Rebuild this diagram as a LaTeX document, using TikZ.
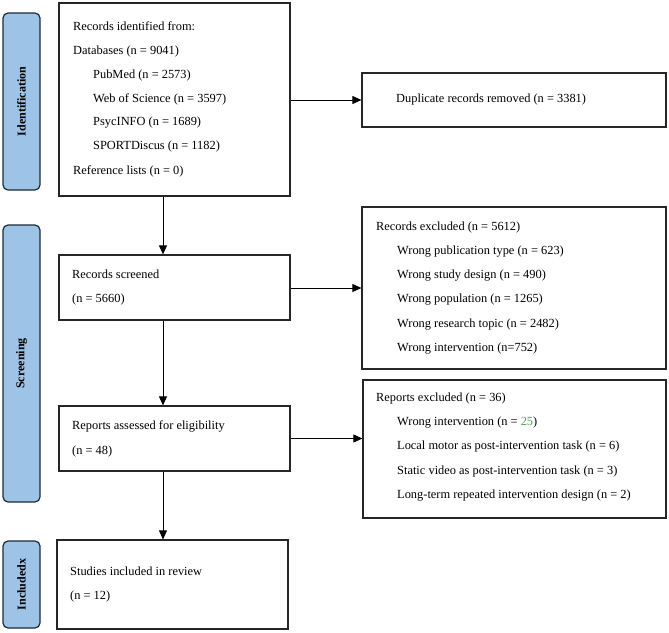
\documentclass[tikz,border=0pt]{standalone}
\usepackage{fontspec}
\setmainfont{Liberation Serif}
\usetikzlibrary{arrows.meta}
\definecolor{sideblue}{HTML}{9DC3E6}
\definecolor{sideedge}{HTML}{1F2A36}
\definecolor{numgreen}{HTML}{4CA45C}
\begin{document}
\begin{tikzpicture}[x=1pt,y=-1pt,
  box/.style={draw=black!85,line width=1.2pt,inner sep=0pt},
  side/.style={draw=sideedge,line width=1.2pt,fill=sideblue,rounded corners=5pt,inner sep=0pt},
  sidelabel/.style={font=\fontsize{12}{14}\selectfont\bfseries,rotate=90},
  txt/.style={anchor=mid west,inner sep=0pt,font=\fontsize{12.4}{14}\selectfont},
  arr/.style={line width=0.8pt,-{Triangle[length=9pt,width=8pt]}}]
\useasboundingbox (0,0) rectangle (669,632);
% side boxes
\node[side,minimum width=37pt,minimum height=177pt] (sid) at (21.5,101.5) {};
\node[sidelabel] (sidt) at (21.5,101.5) {Identification};
\node[side,minimum width=37pt,minimum height=277pt] (sscr) at (21.5,363.5) {};
\node[sidelabel] (sscrt) at (21.5,363.5) {Screening};
\node[side,minimum width=37pt,minimum height=87pt] (sinc) at (21.5,584.5) {};
\node[sidelabel] (sinct) at (21.5,584.5) {Includedx};
% main boxes
\node[box,minimum width=231pt,minimum height=193pt] (ident) at (174.5,99.5) {};
\node[box,minimum width=304pt,minimum height=54pt] (dup) at (514,100) {};
\node[box,minimum width=231pt,minimum height=65pt] (scr) at (174.5,287.5) {};
\node[box,minimum width=304pt,minimum height=162pt] (exc) at (514,288) {};
\node[box,minimum width=231pt,minimum height=65pt] (rep) at (174.5,438.5) {};
\node[box,minimum width=303pt,minimum height=138pt] (exc2) at (514.5,449) {};
\node[box,minimum width=231pt,minimum height=89pt] (inc) at (172.5,584.5) {};
% texts
\node[txt] (t1) at (73,28.5) {Records identified from:};
\node[txt] (t2) at (73,52.5) {Databases (n = 9041)};
\node[txt] (t3) at (93,76.5) {PubMed (n = 2573)};
\node[txt] (t4) at (93,100) {Web of Science (n = 3597)};
\node[txt] (t5) at (93,123.5) {PsycINFO (n = 1689)};
\node[txt] (t6) at (93,147.5) {SPORTDiscus (n = 1182)};
\node[txt] (t7) at (73,172) {Reference lists (n = 0)};
\node[txt] (d1) at (396,100) {Duplicate records removed (n = 3381)};
\node[txt] (s1) at (72,276) {Records screened};
\node[txt] (s2) at (72,300) {(n = 5660)};
\node[txt] (e1) at (376,228) {Records excluded (n = 5612)};
\node[txt] (e2) at (397,252.5) {Wrong publication type (n = 623)};
\node[txt] (e3) at (397,276.5) {Wrong study design (n = 490)};
\node[txt] (e4) at (397,300.5) {Wrong population (n = 1265)};
\node[txt] (e5) at (397,325) {Wrong research topic (n = 2482)};
\node[txt] (e6) at (397,349) {Wrong intervention (n=752)};
\node[txt] (r1) at (72,427) {Reports assessed for eligibility};
\node[txt] (r2) at (72,452) {(n = 48)};
\node[txt] (x1) at (376,399.5) {Reports excluded (n = 36)};
\node[txt] (x2) at (397,423) {Wrong intervention (n = \textcolor{numgreen}{25})};
\node[txt] (x3) at (397,447.5) {Local motor as post-intervention task (n = 6)};
\node[txt] (x4) at (397,472) {Static video as post-intervention task (n = 3)};
\node[txt] (x5) at (397,496) {Long-term repeated intervention design (n = 2)};
\node[txt] (i1) at (70,573) {Studies included in review};
\node[txt] (i2) at (70,597.5) {(n = 12)};
% connectors
\draw[arr] (ident.east |- dup.west) -- (dup.west);
\draw[arr] (scr.east |- exc.west) -- (exc.west);
\draw[arr] (rep.east) -- (rep.east -| exc2.west);
\draw[arr] ([xshift=-11.5pt]ident.south) -- ([xshift=-11.5pt]scr.north);
\draw[arr] ([xshift=-11.5pt]scr.south) -- ([xshift=-11.5pt]rep.north);
\draw[arr] ([xshift=-11.5pt]rep.south) -- ([xshift=-11.5pt]rep.south |- inc.north);
\end{tikzpicture}
\end{document}
